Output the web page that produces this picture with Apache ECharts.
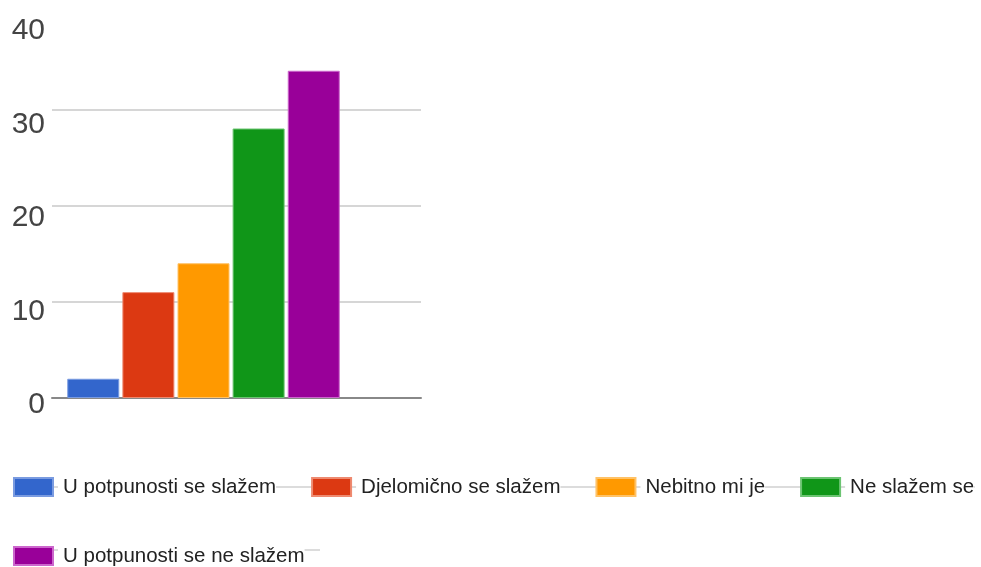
<!DOCTYPE html>
<html>
<head>
<meta charset="utf-8">
<script src="https://cdn.jsdelivr.net/npm/echarts@6/dist/echarts.min.js"></script>
<style>
html,body{margin:0;padding:0;background:#fff;}
#chart{width:981px;height:567px;}
</style>
</head>
<body>
<div id="chart"></div>
<script>
const categories = ['U potpunosti se slažem', 'Djelomično se slažem', 'Nebitno mi je', 'Ne slažem se', 'U potpunosti se ne slažem'];
const values = [2, 11, 14, 28, 34];
const colors = ['#3366cc', '#dc3912', '#ff9900', '#109618', '#990099'];
const borders = ['#7a9be0', '#ee8a70', '#ffc266', '#6cc472', '#cc66cc'];
const yMin = 0, yMax = 40, yStep = 10;

const FONT = "'Liberation Sans', Arial, sans-serif";

const chart = echarts.init(document.getElementById('chart'), null, {renderer: 'canvas'});

const series = categories.map((name, i) => ({
  name: name,
  type: 'bar',
  xAxisIndex: 1,
  yAxisIndex: 1,
  data: [values[i]],
  barWidth: 52,
  barGap: '6%',
  itemStyle: { color: colors[i], borderColor: borders[i], borderWidth: 1 },
  emphasis: { disabled: true }
}));

chart.setOption({
  animation: false,
  color: colors,
  grid: [
    { left: 52, width: 369, top: 13, height: 385 },
    { left: 52, width: 303, top: 13, height: 385 },
    { left: 52, width: 369, top: 31, height: 374 }
  ],
  xAxis: [
    { gridIndex: 0, type: 'category', data: [''],
      axisLine: { show: true, lineStyle: { color: '#888', width: 2 } },
      axisTick: { show: false }, axisLabel: { show: false }, splitLine: { show: false } },
    { gridIndex: 1, type: 'category', data: [''], show: false },
    { gridIndex: 2, type: 'category', data: [''], show: false }
  ],
  yAxis: [
    { gridIndex: 0, type: 'value', min: yMin, max: yMax, interval: yStep,
      axisLine: { show: false }, axisTick: { show: false }, axisLabel: { show: false },
      splitLine: { show: true, showMaxLine: false, showMinLine: false, lineStyle: { color: '#d6d6d6', width: 2 } } },
    { gridIndex: 1, type: 'value', min: yMin, max: yMax, interval: yStep, show: false },
    { gridIndex: 2, type: 'value', min: yMin, max: yMax, interval: yStep,
      axisLine: { show: false }, axisTick: { show: false }, splitLine: { show: false },
      axisLabel: { show: true, margin: 7, fontSize: 30, color: '#444', fontFamily: FONT } }
  ],
  legend: {
    data: categories,
    left: 13,
    right: 0,
    top: 470,
    padding: 0,
    icon: 'rect',
    itemWidth: 39,
    itemHeight: 18,
    itemGap: 35,
    selectedMode: false,
    textStyle: { fontSize: 20.5, color: '#222', fontFamily: FONT, padding: [0, 0, 0, 5], lineHeight: 34, backgroundColor: '#fff' }
  },
  graphic: [
    { type: 'line', z: 0, silent: true, shape: { x1: 13, y1: 487, x2: 975, y2: 487 }, style: { stroke: '#d0d0d0', lineWidth: 1.5 } },
    { type: 'line', z: 0, silent: true, shape: { x1: 13, y1: 550, x2: 320, y2: 550 }, style: { stroke: '#d0d0d0', lineWidth: 1.5 } }
  ],
  series: series
});
</script>
</body>
</html>
